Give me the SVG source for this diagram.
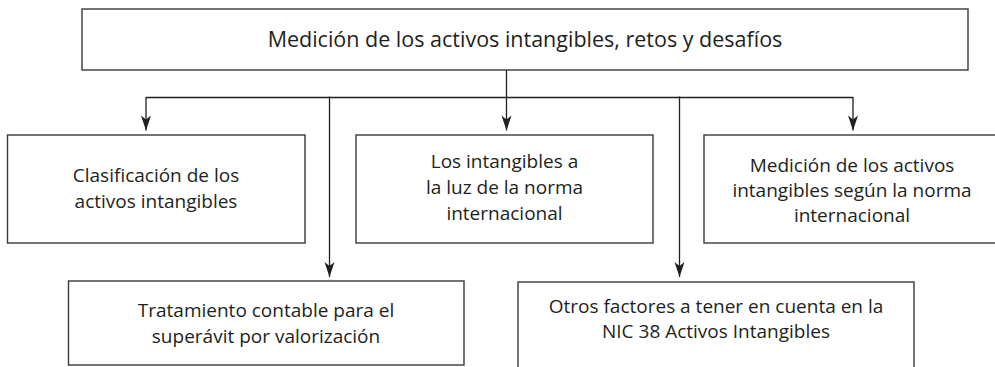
<svg xmlns="http://www.w3.org/2000/svg" width="995" height="367" viewBox="0 0 995 367">
  <style>
    .box { fill: #ffffff; stroke: #3a3a3a; stroke-width: 1.4; }
    .lbl { font-family: "Open Sans", "Liberation Sans", sans-serif; font-size: 19px; fill: #231f20; text-anchor: middle; }
    .title { font-size: 21.5px; }
    .conn { fill: none; stroke: #231f20; stroke-width: 1.3; }
  </style>
  <defs>
    <marker id="ah" viewBox="-16 -6 17 12" refX="0" refY="0" markerWidth="17" markerHeight="12" orient="auto" markerUnits="userSpaceOnUse">
      <path d="M0,0 L-15,-5 L-11,0 L-15,5 Z" fill="#231f20"/>
    </marker>
  </defs>
  <rect width="995" height="367" fill="#ffffff"/>

  <g id="connectors">
    <path class="conn" d="M146,97.5 L853,97.5"/>
    <path class="conn" d="M506.5,70 L506.5,130.5" marker-end="url(#ah)"/>
    <path class="conn" d="M146,97 L146,130.5" marker-end="url(#ah)"/>
    <path class="conn" d="M853,97 L853,130.5" marker-end="url(#ah)"/>
    <path class="conn" d="M329.5,96.5 L329.5,277" marker-end="url(#ah)"/>
    <path class="conn" d="M679.5,96.5 L679.5,277" marker-end="url(#ah)"/>
  </g>

  <g id="root">
    <rect class="box" x="82" y="9" width="886" height="61"/>
    <text class="lbl title" x="525" y="47">Medición de los activos intangibles, retos y desafíos</text>
  </g>

  <g id="clasificacion">
    <rect class="box" x="7.5" y="135" width="297.5" height="108"/>
    <text class="lbl" x="156" y="182">Clasificación de los</text>
    <text class="lbl" x="156" y="208">activos intangibles</text>
  </g>

  <g id="intangibles-norma">
    <rect class="box" x="356" y="135" width="297" height="108"/>
    <text class="lbl" x="504.5" y="168">Los intangibles a</text>
    <text class="lbl" x="504.5" y="194">la luz de la norma</text>
    <text class="lbl" x="504.5" y="220">internacional</text>
  </g>

  <g id="medicion-norma">
    <rect class="box" x="704" y="135" width="300" height="108"/>
    <text class="lbl" x="852" y="172">Medición de los activos</text>
    <text class="lbl" x="852" y="197">intangibles según la norma</text>
    <text class="lbl" x="852" y="222">internacional</text>
  </g>

  <g id="tratamiento">
    <rect class="box" x="68.5" y="281" width="395.5" height="84"/>
    <text class="lbl" x="266" y="317">Tratamiento contable para el</text>
    <text class="lbl" x="266" y="343">superávit por valorización</text>
  </g>

  <g id="otros-factores">
    <rect class="box" x="518" y="282" width="396" height="95"/>
    <text class="lbl" x="716" y="313">Otros factores a tener en cuenta en la</text>
    <text class="lbl" x="716" y="338">NIC 38 Activos Intangibles</text>
  </g>
</svg>
